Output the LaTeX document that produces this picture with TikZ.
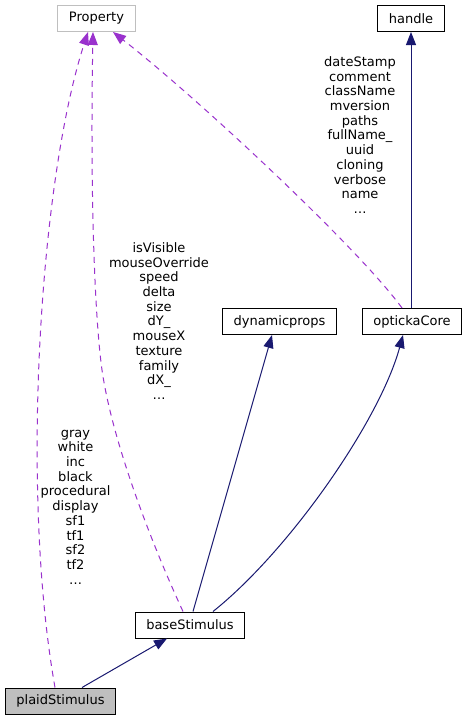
\documentclass[tikz,border=0pt]{standalone}
\usepackage{fontspec}
\setmainfont{DejaVu Sans}
\usetikzlibrary{arrows.meta}
\definecolor{cdInk}{HTML}{000000}
\definecolor{cdNavy}{HTML}{191970}
\definecolor{cdOrchid}{HTML}{9A32CD}
\definecolor{cdGrey}{HTML}{BFBFBF}
\tikzset{
  cd class/.style={
    draw=cdInk, fill=white,
    line width=1pt,
    inner xsep=11pt, inner ysep=0pt,
    minimum height=26pt,
    font=\fontsize{13}{14.7}\selectfont, text=cdInk
  },
  cd external/.style={cd class, draw=cdGrey},
  cd current/.style={cd class, fill=cdGrey},
  cd inherit/.style={
    draw=cdNavy,
    line width=1pt,
    -{Triangle[length=13pt,width=10pt]}
  },
  cd usage/.style={
    draw=cdOrchid,
    line width=1pt,
    dash pattern=on 6pt off 5pt,
    -{Triangle[length=13pt,width=10pt]}
  },
  cd members/.style={align=center, inner sep=0pt, font=\fontsize{13}{14.7}\selectfont, text=cdInk}
}

\begin{document}
\begin{tikzpicture}[x=1pt,y=-1pt]
  \path[use as bounding box, fill=white] (0,0) rectangle (467,720);

  \node[cd external] (Property) at (96.5,18.5) {Property};
  \node[cd class] (handle) at (411,18.5) {handle};
  \node[cd class] (dynamicprops) at (279.5,321.5) {dynamicprops};
  \node[cd class] (optickaCore) at (412,321.5) {optickaCore};
  \node[cd class] (baseStimulus) at (190,625) {baseStimulus};
  \node[cd current] (plaidStimulus) at (60.5,701) {plaidStimulus};

  \node[cd members] (coreMembers) at (360,135) {dateStamp\\comment\\className\\mversion\\paths\\fullName\_\\uuid\\cloning\\verbose\\name\\\dots};
  \node[cd members] (baseMembers) at (159,321) {isVisible\\mouseOverride\\speed\\delta\\size\\dY\_\\mouseX\\texture\\family\\dX\_\\\dots};
  \node[cd members] (plaidMembers) at (75.5,507) {gray\\white\\inc\\black\\procedural\\display\\sf1\\tf1\\sf2\\tf2\\\dots};

  \draw[cd inherit] ([xshift=21.5]plaidStimulus.north) -- ([xshift=-23]baseStimulus.south);
  \draw[cd inherit] ([xshift=3]baseStimulus.north) -- ([xshift=-7.5]dynamicprops.south);
  \draw[cd inherit] ([xshift=23]baseStimulus.north) .. controls (290,550) and (380,420) .. ([xshift=-9]optickaCore.south);
  \draw[cd inherit] ([xshift=-1]optickaCore.north) -- ([xshift=-1]optickaCore.north |- handle.south);

  \draw[cd usage] ([xshift=-10]optickaCore.north) .. controls (360,250) and (200,100) .. ([xshift=16.5]Property.south);
  \draw[cd usage] ([xshift=-7]baseStimulus.north) .. controls (150,540) and (112,440) .. (102,370)
    .. controls (95,320) and (90,200) .. ([xshift=-3.5]Property.south);
  \draw[cd usage] ([xshift=-5.5]plaidStimulus.north) .. controls (20,490) and (40,180) .. ([xshift=-8.5]Property.south);
\end{tikzpicture}
\end{document}
